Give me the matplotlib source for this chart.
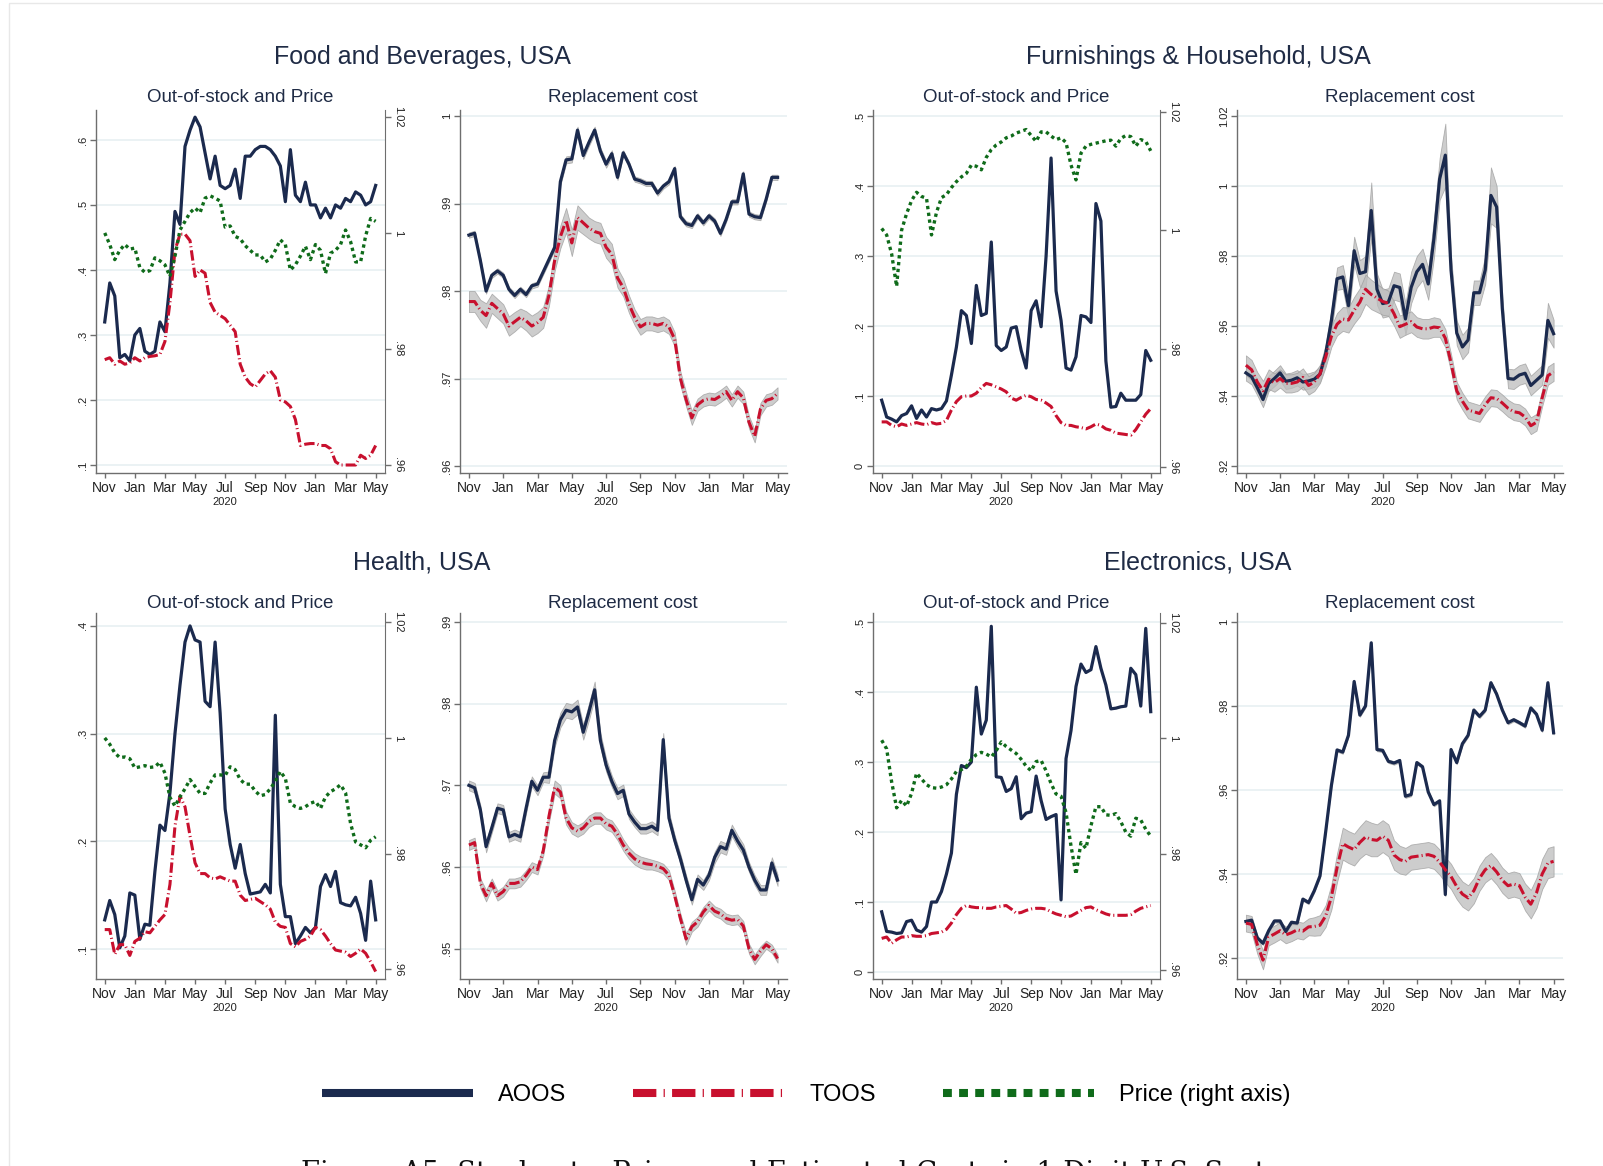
import numpy as np
import matplotlib
matplotlib.use("Agg")
import matplotlib.pyplot as plt
from matplotlib.lines import Line2D
from matplotlib.patches import Rectangle
from matplotlib.ticker import FuncFormatter

plt.rcParams["font.family"] = ["Liberation Sans", "DejaVu Sans"]

# three observations per month, Nov 2019 .. May 2021
N_OBS = 55
MONTH_LABELS = ["Nov", "Jan", "Mar", "May", "Jul", "Sep", "Nov", "Jan", "Mar", "May"]
MONTH_POS = [0, 2, 4, 6, 8, 10, 12, 14, 16, 18]
JAN_POS = [2, 14]

# ---- Food and Beverages
food_oos_aoos = [0.32, 0.38, 0.36, 0.265, 0.27, 0.26, 0.30, 0.31, 0.275, 0.27, 0.275, 0.32, 0.305, 0.38,
                 0.49, 0.47, 0.59, 0.615, 0.635, 0.62, 0.58, 0.54, 0.575, 0.53, 0.525, 0.53, 0.555, 0.51,
                 0.575, 0.575, 0.585, 0.59, 0.59, 0.585, 0.575, 0.56, 0.505, 0.585, 0.515, 0.505, 0.535,
                 0.50, 0.50, 0.48, 0.495, 0.48, 0.50, 0.495, 0.51, 0.505, 0.52, 0.515, 0.50, 0.505, 0.53]
food_oos_toos = [0.262, 0.265, 0.255, 0.26, 0.255, 0.257, 0.265, 0.26, 0.265, 0.267, 0.268, 0.27, 0.29,
                 0.35, 0.43, 0.455, 0.455, 0.445, 0.39, 0.40, 0.395, 0.35, 0.335, 0.33, 0.325, 0.315,
                 0.305, 0.255, 0.235, 0.225, 0.22, 0.23, 0.24, 0.245, 0.235, 0.20, 0.197, 0.19, 0.17,
                 0.13, 0.132, 0.133, 0.133, 0.13, 0.13, 0.125, 0.105, 0.10, 0.10, 0.10, 0.10, 0.115,
                 0.11, 0.115, 0.13]
food_oos_price = [1.0, 0.998, 0.9954, 0.997, 0.998, 0.9972, 0.9974, 0.994, 0.9932, 0.9935, 0.9957, 0.9952,
                  0.9945, 0.9925, 0.996, 1.0005, 1.002, 1.0035, 1.0043, 1.0035, 1.006, 1.0064, 1.006,
                  1.0055, 1.001, 1.0012, 0.9994, 0.999, 0.9978, 0.997, 0.9962, 0.9962, 0.995, 0.9955,
                  0.997, 0.9988, 0.998, 0.9936, 0.9945, 0.996, 0.9977, 0.9954, 0.998, 0.997, 0.993,
                  0.9965, 0.997, 0.998, 1.0005, 0.9985, 0.995, 0.995, 0.9995, 1.0025, 1.002]
food_rc_aoos = [0.9864, 0.9866, 0.9835, 0.9800, 0.9818, 0.9823, 0.9818, 0.9802, 0.9795, 0.9802, 0.9796,
                0.9806, 0.9808, 0.9822, 0.9836, 0.985, 0.9925, 0.995, 0.9951, 0.9984, 0.9955, 0.997,
                0.9984, 0.996, 0.9945, 0.9957, 0.993, 0.9958, 0.9945, 0.9928, 0.9926, 0.9923, 0.9923,
                0.9912, 0.992, 0.9925, 0.994, 0.9885, 0.9877, 0.9875, 0.9886, 0.9878, 0.9886, 0.988,
                0.9866, 0.9882, 0.9902, 0.9902, 0.9934, 0.9888, 0.9885, 0.9884, 0.9905, 0.993, 0.993]
food_rc_toos = [0.9788, 0.9788, 0.9778, 0.9772, 0.9786, 0.978, 0.9774, 0.976, 0.9765, 0.977, 0.9766,
                0.976, 0.9764, 0.977, 0.9795, 0.9835, 0.9862, 0.9881, 0.9855, 0.9884, 0.9878, 0.9872,
                0.9868, 0.9866, 0.985, 0.9842, 0.9815, 0.9804, 0.9785, 0.977, 0.9759, 0.9763, 0.9763,
                0.9761, 0.9763, 0.9759, 0.9745, 0.970, 0.9676, 0.9655, 0.967, 0.9675, 0.9677, 0.9676,
                0.968, 0.9685, 0.9675, 0.9685, 0.9678, 0.965, 0.9634, 0.9665, 0.9675, 0.9677, 0.9683]
# confidence band half-widths, in units of 1e-4
food_rc_aoos_ci = [3, 3, 3, 3, 3, 3, 3, 3, 3, 3, 3, 3, 3, 3, 3, 3, 4, 4, 4, 4, 4, 4, 4, 4, 4, 4, 3, 3,
                   3, 3, 3, 3, 3, 3, 3, 3, 3, 3, 3, 3, 3, 3, 3, 3, 3, 3, 3, 3, 3, 3, 3, 3, 3, 3, 3]
food_rc_toos_ci = [12, 12, 12, 14, 11, 11, 11, 11, 11, 10, 11, 12, 12, 12, 12, 12, 13, 14, 15, 14, 13,
                   12, 12, 12, 12, 12, 11, 10, 10, 9, 9, 8, 8, 8, 8, 8, 8, 8, 8, 8, 7, 7, 7, 7, 7, 7, 7,
                   7, 7, 7, 7, 7, 7, 7, 7]

# ---- Furnishings & Household
furn_oos_aoos = [0.094, 0.07, 0.067, 0.063, 0.072, 0.075, 0.086, 0.068, 0.08, 0.07, 0.082, 0.08, 0.082,
                 0.093, 0.13, 0.17, 0.222, 0.215, 0.175, 0.258, 0.215, 0.218, 0.32, 0.172, 0.165, 0.17,
                 0.197, 0.199, 0.165, 0.14, 0.222, 0.236, 0.199, 0.3, 0.44, 0.25, 0.208, 0.14, 0.137,
                 0.156, 0.215, 0.213, 0.205, 0.375, 0.35, 0.15, 0.084, 0.085, 0.104, 0.094, 0.094,
                 0.094, 0.102, 0.165, 0.151]
furn_oos_toos = [0.063, 0.063, 0.058, 0.056, 0.06, 0.058, 0.06, 0.062, 0.06, 0.059, 0.062, 0.06, 0.061,
                 0.065, 0.08, 0.092, 0.099, 0.1, 0.1, 0.104, 0.112, 0.118, 0.116, 0.113, 0.11, 0.106,
                 0.097, 0.094, 0.098, 0.101, 0.099, 0.095, 0.094, 0.09, 0.085, 0.072, 0.062, 0.058,
                 0.058, 0.056, 0.055, 0.053, 0.056, 0.06, 0.058, 0.053, 0.051, 0.047, 0.046, 0.045,
                 0.044, 0.052, 0.063, 0.074, 0.082]
furn_oos_price = [1.0003, 0.9992, 0.996, 0.9905, 1.0, 1.0028, 1.005, 1.0064, 1.0057, 1.0054, 0.9992,
                  1.003, 1.0055, 1.006, 1.0072, 1.0082, 1.009, 1.0096, 1.011, 1.0108, 1.0102, 1.0123,
                  1.0136, 1.0144, 1.0149, 1.0156, 1.0159, 1.0164, 1.0167, 1.017, 1.016, 1.015, 1.0166,
                  1.0166, 1.0159, 1.0153, 1.0156, 1.0148, 1.011, 1.0085, 1.013, 1.0142, 1.0145, 1.0147,
                  1.0149, 1.0151, 1.0152, 1.0142, 1.0155, 1.016, 1.0158, 1.0142, 1.0153, 1.015, 1.0134]
furn_rc_aoos = [0.9466, 0.9455, 0.9424, 0.939, 0.9436, 0.945, 0.9466, 0.9442, 0.9445, 0.9452, 0.944,
                0.9443, 0.9448, 0.9462, 0.952, 0.9615, 0.9735, 0.974, 0.9658, 0.9815, 0.975, 0.9755,
                0.993, 0.9705, 0.9664, 0.9668, 0.9715, 0.971, 0.962, 0.971, 0.9755, 0.9776, 0.972,
                0.985, 1.002, 1.0088, 0.976, 0.958, 0.954, 0.956, 0.9695, 0.9695, 0.976, 0.9973,
                0.994, 0.965, 0.945, 0.9448, 0.946, 0.9465, 0.943, 0.9445, 0.946, 0.9616, 0.9578]
furn_rc_toos = [0.9488, 0.9475, 0.944, 0.9415, 0.9448, 0.9438, 0.945, 0.9436, 0.9436, 0.944, 0.9453,
                0.943, 0.944, 0.9463, 0.9511, 0.957, 0.9605, 0.962, 0.9617, 0.9645, 0.9668, 0.9705,
                0.969, 0.968, 0.967, 0.9665, 0.9635, 0.9598, 0.9605, 0.9612, 0.9597, 0.9592, 0.9592,
                0.9597, 0.9595, 0.9565, 0.9495, 0.9415, 0.9385, 0.936, 0.9355, 0.935, 0.9375, 0.9395,
                0.9393, 0.938, 0.9365, 0.9355, 0.9352, 0.934, 0.9315, 0.9325, 0.9395, 0.9458, 0.9469]
furn_rc_aoos_ci = [22, 22, 22, 22, 22, 22, 22, 22, 22, 22, 22, 22, 22, 22, 28, 30, 32, 34, 34, 40, 38,
                   45, 80, 45, 40, 40, 40, 40, 45, 45, 45, 45, 45, 55, 60, 90, 40, 35, 35, 35, 35, 35,
                   40, 80, 60, 35, 28, 28, 28, 28, 28, 28, 28, 50, 40]
furn_rc_toos_ci = [28, 28, 28, 28, 28, 26, 26, 26, 26, 26, 26, 26, 26, 26, 28, 30, 32, 34, 36, 38, 40,
                   42, 42, 40, 38, 36, 34, 32, 30, 30, 28, 28, 28, 28, 26, 26, 25, 25, 24, 24, 24, 24,
                   24, 24, 24, 24, 24, 24, 24, 24, 24, 24, 24, 26, 26]

# ---- Health
health_oos_aoos = [0.127, 0.145, 0.132, 0.101, 0.112, 0.152, 0.15, 0.109, 0.123, 0.122, 0.172, 0.215,
                   0.21, 0.245, 0.3, 0.345, 0.385, 0.4, 0.387, 0.385, 0.33, 0.325, 0.385, 0.319, 0.23,
                   0.197, 0.175, 0.197, 0.17, 0.151, 0.152, 0.153, 0.16, 0.152, 0.317, 0.16, 0.13, 0.13,
                   0.105, 0.112, 0.12, 0.115, 0.12, 0.158, 0.169, 0.158, 0.172, 0.143, 0.141, 0.14,
                   0.148, 0.133, 0.108, 0.163, 0.127]
health_oos_toos = [0.118, 0.118, 0.095, 0.104, 0.104, 0.094, 0.107, 0.11, 0.116, 0.115, 0.121, 0.127,
                   0.132, 0.16, 0.214, 0.242, 0.232, 0.205, 0.18, 0.17, 0.17, 0.166, 0.165, 0.167, 0.165,
                   0.163, 0.163, 0.15, 0.145, 0.146, 0.147, 0.144, 0.141, 0.137, 0.125, 0.121, 0.12,
                   0.105, 0.102, 0.107, 0.109, 0.112, 0.12, 0.118, 0.112, 0.105, 0.099, 0.098, 0.097,
                   0.093, 0.096, 0.1, 0.096, 0.088, 0.079]
health_oos_price = [1.0, 0.9989, 0.9974, 0.9966, 0.9967, 0.9964, 0.9948, 0.995, 0.9952, 0.9949, 0.995,
                    0.9958, 0.9939, 0.9897, 0.9882, 0.9898, 0.9912, 0.9928, 0.9916, 0.9904, 0.9904,
                    0.9922, 0.9936, 0.9936, 0.9935, 0.995, 0.9945, 0.9928, 0.992, 0.992, 0.9908, 0.99,
                    0.9902, 0.9912, 0.9925, 0.9942, 0.993, 0.9887, 0.9881, 0.9878, 0.9881, 0.9887,
                    0.989, 0.9878, 0.9898, 0.9907, 0.9912, 0.9919, 0.9905, 0.9852, 0.982, 0.9815,
                    0.981, 0.9823, 0.9829]
health_rc_aoos = [0.970, 0.9697, 0.967, 0.9625, 0.9648, 0.9672, 0.967, 0.9637, 0.964, 0.9637, 0.9672,
                  0.9705, 0.9694, 0.971, 0.971, 0.9755, 0.978, 0.9792, 0.979, 0.9796, 0.9765, 0.979,
                  0.9817, 0.9755, 0.9725, 0.9705, 0.969, 0.9694, 0.9665, 0.9655, 0.9647, 0.9647, 0.965,
                  0.9645, 0.9756, 0.966, 0.9633, 0.961, 0.9584, 0.956, 0.9585, 0.9578, 0.959, 0.9612,
                  0.9625, 0.9622, 0.9645, 0.9632, 0.9621, 0.96, 0.9584, 0.9572, 0.9572, 0.9605, 0.9584]
health_rc_toos = [0.9627, 0.963, 0.958, 0.9565, 0.958, 0.9565, 0.957, 0.958, 0.958, 0.9582, 0.959,
                  0.96, 0.9597, 0.962, 0.9662, 0.9698, 0.9692, 0.966, 0.9648, 0.9644, 0.9648, 0.9656,
                  0.966, 0.966, 0.9653, 0.965, 0.964, 0.9627, 0.9617, 0.961, 0.9606, 0.9604, 0.9603,
                  0.9601, 0.9598, 0.959, 0.9565, 0.9537, 0.9512, 0.9527, 0.9533, 0.9545, 0.9553,
                  0.9546, 0.9543, 0.9537, 0.9535, 0.9536, 0.9528, 0.95, 0.9487, 0.9497, 0.9505, 0.95,
                  0.9488]
health_rc_aoos_ci = [6, 6, 6, 7, 6, 6, 6, 6, 6, 6, 6, 6, 6, 6, 7, 8, 9, 9, 9, 9, 9, 10, 10, 9, 8, 7, 7,
                     7, 6, 6, 6, 6, 6, 6, 8, 7, 6, 6, 6, 6, 6, 6, 6, 7, 7, 7, 7, 7, 7, 6, 6, 6, 6, 7, 7]
health_rc_toos_ci = [6, 6, 6, 7, 6, 6, 6, 6, 6, 6, 6, 6, 6, 6, 7, 8, 8, 8, 7, 7, 7, 7, 7, 7, 7, 7, 7,
                     7, 7, 7, 7, 7, 6, 6, 6, 6, 6, 6, 7, 6, 6, 6, 6, 6, 6, 6, 6, 6, 6, 6, 6, 6, 5, 5, 5]

# ---- Electronics
elec_oos_aoos = [0.086, 0.058, 0.057, 0.055, 0.056, 0.072, 0.074, 0.06, 0.057, 0.065, 0.1, 0.1, 0.115,
                 0.14, 0.17, 0.254, 0.295, 0.292, 0.3, 0.407, 0.34, 0.36, 0.494, 0.279, 0.278, 0.258,
                 0.262, 0.279, 0.219, 0.227, 0.229, 0.28, 0.245, 0.218, 0.222, 0.225, 0.103, 0.305,
                 0.345, 0.408, 0.44, 0.428, 0.432, 0.465, 0.434, 0.41, 0.376, 0.377, 0.379, 0.38,
                 0.434, 0.425, 0.38, 0.491, 0.372]
elec_oos_toos = [0.048, 0.05, 0.041, 0.046, 0.05, 0.05, 0.052, 0.051, 0.051, 0.052, 0.055, 0.056, 0.057,
                 0.061, 0.07, 0.082, 0.091, 0.095, 0.093, 0.092, 0.092, 0.091, 0.091, 0.093, 0.094,
                 0.095, 0.09, 0.084, 0.085, 0.088, 0.09, 0.091, 0.091, 0.09, 0.086, 0.083, 0.081, 0.079,
                 0.08, 0.084, 0.088, 0.092, 0.093, 0.089, 0.086, 0.083, 0.081, 0.081, 0.081, 0.081,
                 0.082, 0.087, 0.091, 0.093, 0.095]
elec_oos_price = [0.9997, 0.9982, 0.9925, 0.988, 0.9893, 0.9883, 0.9905, 0.994, 0.993, 0.992, 0.9915,
                  0.9914, 0.9916, 0.992, 0.993, 0.9943, 0.9946, 0.9952, 0.9964, 0.9972, 0.9976, 0.9973,
                  0.9968, 0.9979, 0.9994, 0.9986, 0.998, 0.9974, 0.9964, 0.9952, 0.9944, 0.996, 0.9962,
                  0.9944, 0.9922, 0.9904, 0.99, 0.9872, 0.9814, 0.9765, 0.982, 0.981, 0.9849, 0.9882,
                  0.9882, 0.9868, 0.9867, 0.987, 0.9856, 0.9838, 0.9831, 0.9862, 0.9859, 0.9843, 0.9831]
elec_rc_aoos = [0.9287, 0.929, 0.9248, 0.9235, 0.9265, 0.9288, 0.9288, 0.9263, 0.9285, 0.9283, 0.934,
                0.9332, 0.936, 0.9395, 0.95, 0.961, 0.9695, 0.969, 0.973, 0.9858, 0.9778, 0.98, 0.995,
                0.9696, 0.9694, 0.9668, 0.9664, 0.967, 0.9585, 0.9589, 0.9665, 0.9655, 0.9595, 0.9565,
                0.9574, 0.9351, 0.9696, 0.9665, 0.971, 0.973, 0.979, 0.9775, 0.979, 0.9855, 0.9828,
                0.979, 0.976, 0.9767, 0.976, 0.9752, 0.9795, 0.978, 0.9742, 0.9855, 0.9736]
elec_rc_toos = [0.9283, 0.928, 0.9232, 0.9195, 0.925, 0.9257, 0.9265, 0.9255, 0.926, 0.9267, 0.9264,
                0.9274, 0.9275, 0.9278, 0.93, 0.9345, 0.9415, 0.9472, 0.9464, 0.9458, 0.9475, 0.9488,
                0.9482, 0.948, 0.949, 0.948, 0.9445, 0.9434, 0.943, 0.944, 0.9442, 0.9444, 0.9446,
                0.9442, 0.9428, 0.941, 0.9394, 0.937, 0.9352, 0.9343, 0.936, 0.939, 0.941, 0.942,
                0.9405, 0.9385, 0.9372, 0.9376, 0.9372, 0.9345, 0.9328, 0.9355, 0.94, 0.9426, 0.943]
elec_rc_aoos_ci = [4, 4, 4, 4, 4, 4, 4, 4, 4, 4, 4, 4, 4, 4, 4, 4, 4, 4, 4, 4, 4, 4, 4, 4, 4, 4, 4, 4,
                   4, 4, 4, 4, 4, 4, 4, 4, 4, 4, 4, 4, 4, 4, 4, 4, 4, 4, 4, 4, 4, 4, 4, 4, 4, 4, 4]
elec_rc_toos_ci = [20, 20, 22, 22, 20, 20, 20, 20, 20, 20, 20, 20, 22, 24, 26, 30, 34, 38, 38, 38, 38,
                   40, 40, 38, 38, 38, 35, 33, 32, 30, 30, 30, 30, 30, 30, 30, 30, 30, 30, 30, 30, 30,
                   30, 30, 30, 30, 30, 30, 30, 32, 34, 36, 36, 36, 36]

SECTORS = ["Food and Beverages, USA", "Furnishings & Household, USA", "Health, USA", "Electronics, USA"]

NAVY = "#1b2a4e"
RED = "#c8102e"
GREEN = "#0f6b1a"
GRID = "#e6eff1"
SPINE = "#6e6e6e"
TEXT = "#1f2b45"

W, H = 1603, 1166


def stata_fmt(v, pos=None):
    s = f"{v:.2f}".rstrip("0").rstrip(".")
    if s.startswith("0."):
        s = s[1:]
    return s


def px_box(left, top, right, bottom):
    return [left / W, 1 - bottom / H, (right - left) / W, (bottom - top) / H]


def style_time_axis(ax, xlim, ylim, yticks):
    ax.set_xlim(*xlim)
    ax.set_ylim(*ylim)
    ax.set_yticks(yticks)
    ax.yaxis.set_major_formatter(FuncFormatter(stata_fmt))
    ax.set_xticks(MONTH_POS)
    ax.set_xticklabels(MONTH_LABELS)
    ax.set_xticks(JAN_POS, minor=True)
    ax.tick_params(axis="x", which="major", length=3.5, width=1, color=SPINE,
                   labelsize=10, labelcolor="#222222", pad=2.5)
    ax.tick_params(axis="x", which="minor", length=7, width=1.2, color=SPINE)
    ax.tick_params(axis="y", length=4, width=1, color=SPINE, labelsize=8,
                   labelcolor="#222222", labelrotation=90, pad=2)
    for lab in ax.get_yticklabels():
        lab.set_verticalalignment("center")
    ax.grid(axis="y", color=GRID, linewidth=1.1)
    ax.set_axisbelow(True)
    for side in ("top", "right"):
        ax.spines[side].set_visible(False)
    for side in ("left", "bottom"):
        ax.spines[side].set_color(SPINE)
        ax.spines[side].set_linewidth(1)
    ax.annotate("2020", xy=(8, 0), xycoords=("data", "axes fraction"), xytext=(0, -21),
                textcoords="offset points", ha="center", va="center", fontsize=8, color="#222222")


def draw_aoos(ax, x, y):
    ax.plot(x, y, color=NAVY, lw=2.3, solid_joinstyle="round", zorder=3)


def draw_toos(ax, x, y):
    ax.plot(x, y, color=RED, lw=2.2, dashes=(3.4, 1.0, 0.35, 1.0), dash_capstyle="butt", zorder=4)


def draw_oos_panel(box, aoos, toos, price, left_lim, left_ticks, right_lim):
    x = np.arange(N_OBS) / 3
    ax = fig.add_axes(px_box(*box))
    style_time_axis(ax, (-0.58, 18.62), left_lim, left_ticks)
    draw_aoos(ax, x, aoos)
    draw_toos(ax, x, toos)
    tw = ax.twinx()
    tw.set_ylim(*right_lim)
    tw.set_yticks([0.96, 0.98, 1.0, 1.02])
    tw.yaxis.set_major_formatter(FuncFormatter(stata_fmt))
    tw.tick_params(axis="y", length=4, width=1, color=SPINE, labelsize=8,
                   labelcolor="#222222", labelrotation=-90, pad=2)
    for lab in tw.get_yticklabels():
        lab.set_verticalalignment("center")
    tw.spines["top"].set_visible(False)
    tw.spines["left"].set_visible(False)
    tw.spines["bottom"].set_visible(False)
    tw.spines["right"].set_color(SPINE)
    tw.plot(x, price, color=GREEN, lw=2.4, dashes=(1.0, 1.05), dash_capstyle="butt", zorder=5)
    return ax


def draw_rc_panel(box, aoos, toos, aoos_ci, toos_ci, ylim, yticks):
    x = np.arange(N_OBS) / 3
    ax = fig.add_axes(px_box(*box))
    style_time_axis(ax, (-0.52, 18.55), ylim, yticks)
    for series, ci in ((aoos, aoos_ci), (toos, toos_ci)):
        s = np.asarray(series)
        h = np.asarray(ci) * 1e-4
        ax.fill_between(x, s - h, s + h, facecolor="#bdbdbd", alpha=0.75,
                        edgecolor="#9c9c9c", linewidth=0.6, zorder=2)
    draw_aoos(ax, x, aoos)
    draw_toos(ax, x, toos)
    return ax


fig = plt.figure(figsize=(W / 100, H / 100), dpi=100)
fig.patch.set_facecolor("white")
fig.add_artist(Rectangle((9 / W, -0.1), 1.2, 1.1 - 3 / H, transform=fig.transFigure,
                         fill=False, edgecolor="#e8e8e8", linewidth=1))

draw_oos_panel((96, 110, 385, 473), food_oos_aoos, food_oos_toos, food_oos_price,
               (0.0877, 0.646), [0.1, 0.2, 0.3, 0.4, 0.5, 0.6], (0.9586, 1.0212))
draw_rc_panel((460, 110, 787, 473), food_rc_aoos, food_rc_toos, food_rc_aoos_ci, food_rc_toos_ci,
              (0.9592, 1.0007), [0.96, 0.97, 0.98, 0.99, 1.0])
draw_oos_panel((873, 110, 1160, 473), furn_oos_aoos, furn_oos_toos, furn_oos_price,
               (-0.01, 0.5086), [0, 0.1, 0.2, 0.3, 0.4, 0.5], (0.959, 1.0203))
draw_rc_panel((1237, 110, 1563, 473), furn_rc_aoos, furn_rc_toos, furn_rc_aoos_ci, furn_rc_toos_ci,
              (0.918, 1.0217), [0.92, 0.94, 0.96, 0.98, 1.0, 1.02])
draw_oos_panel((96, 613, 385, 979), health_oos_aoos, health_oos_toos, health_oos_price,
               (0.0721, 0.412), [0.1, 0.2, 0.3, 0.4], (0.9583, 1.0216))
draw_rc_panel((460, 613, 787, 979), health_rc_aoos, health_rc_toos, health_rc_aoos_ci,
              health_rc_toos_ci, (0.9463, 0.9911), [0.95, 0.96, 0.97, 0.98, 0.99])
draw_oos_panel((873, 613, 1160, 979), elec_oos_aoos, elec_oos_toos, elec_oos_price,
               (-0.01, 0.513), [0, 0.1, 0.2, 0.3, 0.4, 0.5], (0.9584, 1.0217))
draw_rc_panel((1237, 613, 1563, 979), elec_rc_aoos, elec_rc_toos, elec_rc_aoos_ci, elec_rc_toos_ci,
              (0.915, 1.0021), [0.92, 0.94, 0.96, 0.98, 1.0])

# sector titles and panel subtitles
for name, (cx, cy) in zip(SECTORS, [(422, 57), (1198, 57), (422, 563), (1198, 563)]):
    fig.text(cx / W, 1 - cy / H, name, ha="center", va="center", fontsize=18, color=TEXT)
for cy in (98, 603):
    for cx, label in ((240, "Out-of-stock and Price"), (623, "Replacement cost"),
                      (1016, "Out-of-stock and Price"), (1400, "Replacement cost")):
        fig.text(cx / W, 1 - cy / H, label, ha="center", va="center", fontsize=13.5, color=TEXT)

handles = [
    Line2D([], [], color=NAVY, lw=5.8, solid_capstyle="butt"),
    Line2D([], [], color=RED, lw=5.8, dashes=(2.9, 0.9, 0.15, 0.9), dash_capstyle="butt"),
    Line2D([], [], color=GREEN, lw=5.8, dashes=(1.1, 0.9), dash_capstyle="butt"),
]
fig.legend(handles, ["AOOS", "TOOS", "Price (right axis)"], loc="center",
           bbox_to_anchor=(806 / W, 1 - 1095 / H), ncol=3, frameon=False, fontsize=17,
           handlelength=6.4, handletextpad=1.05, columnspacing=2.85)

# figure caption, cut off by the bottom edge as in the source
fig.text(805 / W, 1 - 1160 / H,
         "Figure A5: Stockouts, Prices and Estimated Costs in 1-Digit U.S. Sectors",
         ha="center", va="top", fontsize=19.7, family="DejaVu Serif", color="#111111")

fig.savefig("out.png", dpi=100)
